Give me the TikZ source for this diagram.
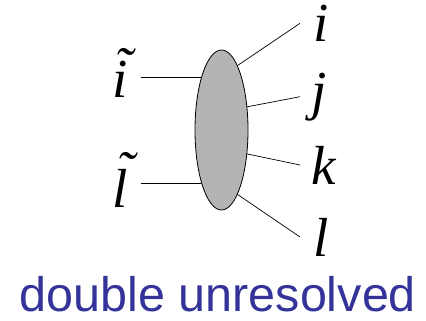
\RequirePackage{fix-cm}
\documentclass[tikz,border=0pt]{standalone}
\usepackage{fontspec}
\newfontfamily\labelsans{Liberation Sans}
\newfontfamily\legfont{Liberation Serif}[UprightFont=*-Italic]
\usetikzlibrary{shapes.geometric}

\definecolor{blobgray}{RGB}{180,180,180}
\definecolor{capblue}{RGB}{51,51,153}

% letter with a tilde set over it (dot of i kept)
\newcommand{\legtil}[3]{\ooalign{#1\cr\hidewidth\kern#2\raisebox{#3}{\char"02DC}\hidewidth\cr}}

\begin{document}
\begin{tikzpicture}[
x=1pt, y=-1pt,
blob/.style={ellipse, draw, fill=blobgray, line width=0.8pt, minimum width=53pt, minimum height=160pt, inner sep=0pt},
leg/.style={font=\legfont\fontsize{55}{60}\selectfont, inner ysep=0pt},
wire/.style={line width=0.7pt}
]
\useasboundingbox (0,0) rectangle (426,321);

% the blob
\node[blob] (blob) at (221.5,130) {};

% incoming legs
\node[leg, anchor=base east, inner xsep=13pt] (itil) at (140.7,98) {\legtil{i}{0.14em}{0.22em}};
\node[leg, anchor=base east, inner xsep=13pt] (ltil) at (140.7,207) {\legtil{l}{0.2em}{0.32em}};

% outgoing legs
\node[leg, anchor=west, inner xsep=13pt] (i) at (300,23.3) {i};
\node[leg, anchor=west, inner xsep=11pt] (j) at (300,96.7) {j};
\node[leg, anchor=west, inner xsep=11pt] (k) at (300,165) {k};
\node[leg, anchor=west, inner xsep=13pt] (l) at (300,237) {l};

\draw[wire] ([yshift=20.7pt]itil.base east) -- ([yshift=20.7pt]itil.base east -| blob.111);
\draw[wire] ([yshift=23.7pt]ltil.base east) -- ([yshift=23.7pt]ltil.base east -| blob.249);
\draw[wire] (blob.76) -- (i.west);
\draw[wire] (blob.42) -- (j.west);
\draw[wire] (blob.-43) -- (k.west);
\draw[wire] (blob.-76) -- (l.west);

% caption
\node[font=\labelsans\fontsize{48.5}{55}\selectfont, text=capblue, anchor=base west, inner sep=0pt] (cap) at (19.5,311.7) {double unresolved};

\end{tikzpicture}
\end{document}
